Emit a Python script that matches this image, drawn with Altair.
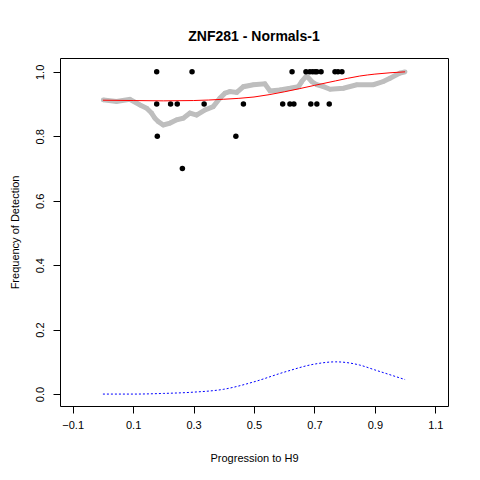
import altair as alt
import pandas as pd

black_x = [0.178, 0.295, 0.626, 0.672, 0.685, 0.694, 0.702, 0.708, 0.722, 0.768, 0.778, 0.791,
           0.178, 0.224, 0.246, 0.335, 0.465, 0.595, 0.619, 0.632, 0.688, 0.708, 0.749,
           0.18, 0.44, 0.263]
black_y = [1.0] * 12 + [0.9] * 11 + [0.8, 0.8, 0.7]

gray_x = [0.001, 0.045, 0.089, 0.123, 0.145, 0.161, 0.172, 0.183, 0.2, 0.222, 0.244, 0.266,
          0.288, 0.31, 0.338, 0.365, 0.387, 0.404, 0.42, 0.443, 0.465, 0.498, 0.536, 0.553,
          0.586, 0.619, 0.647, 0.658, 0.674, 0.691, 0.708, 0.73, 0.752, 0.796, 0.84, 0.895,
          0.928, 0.95, 0.983, 1.0]
gray_y = [0.913, 0.908, 0.915, 0.897, 0.887, 0.872, 0.856, 0.846, 0.835, 0.841, 0.851, 0.856,
          0.872, 0.866, 0.882, 0.892, 0.918, 0.934, 0.939, 0.936, 0.954, 0.96, 0.963, 0.941,
          0.944, 0.949, 0.954, 0.97, 0.988, 0.97, 0.96, 0.954, 0.946, 0.949, 0.96, 0.96,
          0.97, 0.98, 0.996, 1.0]

fit_x = [0.0, 0.1, 0.2, 0.3, 0.4, 0.5, 0.6, 0.7, 0.77, 0.85, 0.9, 1.0]
red_y = [0.912, 0.911, 0.91, 0.911, 0.915, 0.922, 0.938, 0.958, 0.972, 0.987, 0.993, 1.0]
blue_y = [0.0, 0.0, 0.002, 0.006, 0.015, 0.038, 0.068, 0.093, 0.1, 0.09, 0.075, 0.045]

xs = alt.Scale(domain=[-0.142, 1.142], nice=False, zero=False)
ys = alt.Scale(domain=[-0.037, 1.043], nice=False, zero=False)
xa = alt.Axis(values=[round(-0.1 + 0.1 * i, 1) for i in range(13)], format=".1f",
              title="Progression to H9", grid=False, tickSize=7, titlePadding=22,
              labelPadding=6, labelOverlap=False, labelFlush=False)
ya = alt.Axis(values=[round(0.1 * i, 1) for i in range(11)], format=".1f",
              title="Frequency of Detection", grid=False, tickSize=7, labelAngle=270,
              labelAlign="center", labelBaseline="bottom", labelPadding=8, titlePadding=14,
              labelOverlap=False, labelFlush=False)

gdf = pd.DataFrame({"x": gray_x, "y": gray_y})
gray_band = alt.Chart(gdf).mark_line(color="#bebebe", strokeWidth=5).encode(
    x=alt.X("x:Q", scale=xs, axis=xa), y=alt.Y("y:Q", scale=ys, axis=ya))
gray = alt.Chart(gdf).mark_circle(color="#bebebe", size=22, opacity=1).encode(
    x=alt.X("x:Q", scale=xs), y=alt.Y("y:Q", scale=ys))
black = alt.Chart(pd.DataFrame({"x": black_x, "y": black_y})).mark_circle(
    color="black", size=30, opacity=1).encode(x=alt.X("x:Q", scale=xs), y=alt.Y("y:Q", scale=ys))
fits = pd.DataFrame({"x": fit_x, "r": red_y, "b": blue_y})
red = alt.Chart(fits).mark_line(color="red", strokeWidth=1, interpolate="monotone").encode(
    x=alt.X("x:Q", scale=xs), y=alt.Y("r:Q", scale=ys))
blue = alt.Chart(fits).mark_line(color="blue", strokeWidth=1, strokeDash=[2, 2],
                                 interpolate="monotone").encode(
    x=alt.X("x:Q", scale=xs), y=alt.Y("b:Q", scale=ys))

chart = alt.layer(gray_band, gray, black, red, blue).properties(
    width=388, height=348, autosize="none",
    padding={"left": 52, "top": 50, "right": 24, "bottom": 66},
    title=alt.TitleParams("ZNF281 - Normals-1", fontSize=14, fontWeight="bold",
                          font="Liberation Sans", offset=14),
).configure_view(stroke="black", strokeWidth=1).configure_axis(
    labelFont="Liberation Sans", titleFont="Liberation Sans", labelFontSize=11,
    titleFontSize=11, titleFontWeight="normal", domainColor="black", tickColor="black",
    labelColor="black", domain=False)

chart.save("out.html", embed_options={"renderer": "svg", "actions": False})
